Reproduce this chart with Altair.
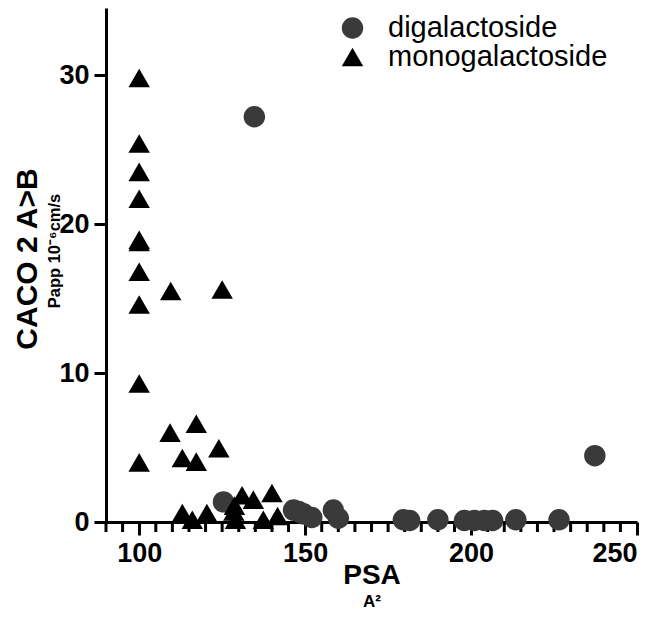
import altair as alt
import pandas as pd

# ---- data ----
mono_psa = [100, 100, 100, 100, 100, 100, 100, 100, 100, 100,
            109.5, 125, 109.3, 117.2, 124, 113, 117.2,
            113, 116, 120.4, 128.5, 129, 128.7, 131, 134.4, 140, 137.4, 141.7]
mono_caco = [29.8, 25.4, 23.5, 21.7, 18.95, 18.8, 16.8, 14.6, 9.3, 4.0,
             15.5, 15.6, 6.0, 6.6, 4.95, 4.3, 4.05,
             0.6, 0.15, 0.6, 0.7, 0.15, 1.1, 1.8, 1.5, 1.95, 0.15, 0.4]

di_psa = [134.7, 125.4, 146.5, 148, 149.5, 152, 158.5, 160, 179.6, 181.5,
          190, 198, 201, 204, 206.5, 213.5, 226.5, 237.3]
di_caco = [27.2, 1.35, 0.8, 0.7, 0.55, 0.3, 0.8, 0.25, 0.15, 0.1,
           0.15, 0.1, 0.1, 0.1, 0.1, 0.15, 0.15, 4.45]

series = ["digalactoside", "monogalactoside"]
x_major = [100, 150, 200, 250]
x_minor = [v for v in range(90, 251, 5) if v not in x_major]
y_ticks = [0, 10, 20, 30]

df = pd.DataFrame({
    "psa": di_psa + mono_psa,
    "caco": di_caco + mono_caco,
    "series": [series[0]] * len(di_psa) + [series[1]] * len(mono_psa),
})

W, H = 531, 514
FONT = "Liberation Sans"

xscale = alt.Scale(domain=[90, 250], nice=False, zero=False)

points = alt.Chart(df).mark_point(filled=True, opacity=1, size=460).encode(
    x=alt.X("psa:Q", scale=xscale,
            axis=alt.Axis(values=x_major, title=None, tickSize=13, labelPadding=5)),
    y=alt.Y("caco:Q",
            scale=alt.Scale(domain=[0, 34.5], nice=False, zero=False),
            axis=alt.Axis(values=y_ticks, title=None, tickSize=12, labelPadding=5)),
    shape=alt.Shape("series:N", scale=alt.Scale(domain=series, range=["circle", "triangle-up"]),
                    legend=alt.Legend(title=None)),
    color=alt.Color("series:N", scale=alt.Scale(domain=series, range=["#3a3a3a", "#000000"]),
                    legend=alt.Legend(title=None)),
)

minor = alt.Chart(pd.DataFrame({"v": x_minor})).mark_rule(
    color="black", strokeWidth=3
).encode(x=alt.X("v:Q", scale=xscale), y=alt.value(H), y2=alt.value(H + 10))

def txt(s, x, y, size, angle=0):
    return alt.Chart(pd.DataFrame({"t": [s]})).mark_text(
        font=FONT, fontWeight="bold", fontSize=size, color="black", angle=angle,
        align="center", baseline="middle"
    ).encode(text="t:N", x=alt.value(x), y=alt.value(y))

chart = alt.layer(
    minor,
    points,
    txt("CACO 2 A>B", -78, 251, 30, 270),
    txt("Papp 10\u207b\u2076cm/s", -51, 243, 16.5, 270),
    txt("PSA", 266, 568, 28),
    txt("A\u00b2", 266, 594, 17),
).properties(
    width=W, height=H,
    autosize=alt.AutoSizeParams(type="none"),
    padding={"left": 98, "top": 0, "right": 12, "bottom": 100},
).configure_view(stroke=None).configure_axis(
    grid=False, domainColor="black", domainWidth=3, tickColor="black", tickWidth=3,
    labelFont=FONT, labelFontWeight="bold", labelFontSize=27, labelColor="black",
).configure_legend(
    orient="none", legendX=232, legendY=6, labelFont=FONT, labelFontSize=29,
    labelColor="black", symbolSize=460, labelOffset=21, rowPadding=0, clipHeight=28,
    labelLimit=0, symbolStrokeWidth=0,
)

chart.save("out.html", embed_options={"renderer": "svg", "actions": False})
